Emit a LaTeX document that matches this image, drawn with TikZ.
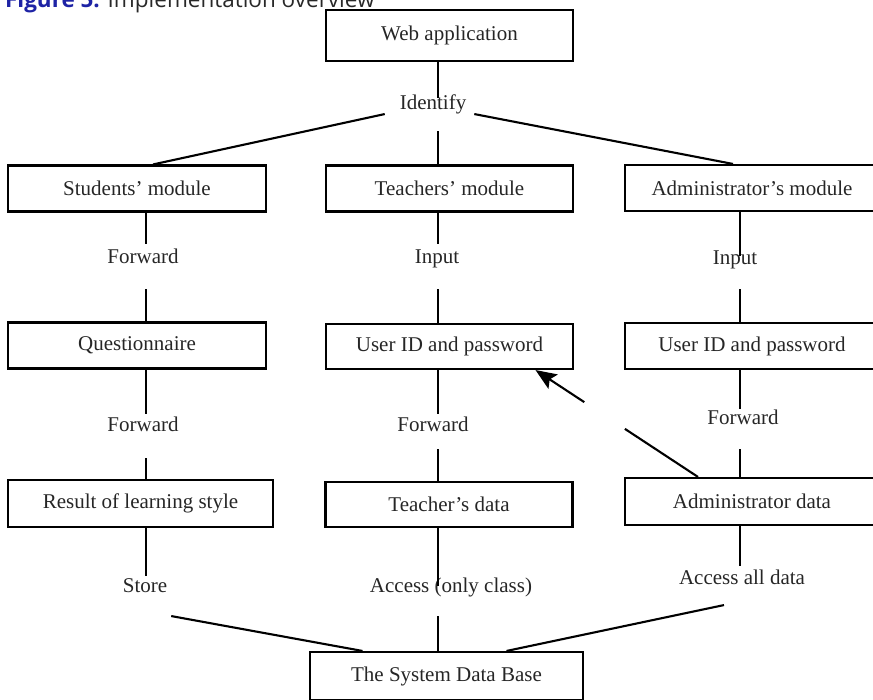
\documentclass[tikz,border=0pt]{standalone}
\usepackage{fontspec}
\setmainfont{Liberation Serif}
\newfontfamily\capfont{Open Sans}
\usetikzlibrary{arrows.meta,calc}
\definecolor{capblue}{RGB}{30,35,165}
\definecolor{capgray}{RGB}{40,40,40}

\begin{document}
\begin{tikzpicture}[x=1pt,y=-1pt,line width=2.1pt,
  box/.style={draw,minimum height=46pt,inner sep=0pt,text=black!85,font=\fontsize{21}{25}\selectfont},
  lab/.style={anchor=base,inner sep=0pt,text height=14pt,text depth=4pt,text=black!85,font=\fontsize{21}{25}\selectfont}]
  \useasboundingbox (0,0) rectangle (873,699);
  \node[anchor=base west,inner sep=0pt,text=capgray,font=\capfont\fontsize{22.5}{26}\selectfont] (21) at (4,7) {\textcolor{capblue}{\bfseries Figure 5.} Implementation overview};
  \coordinate (L) at (146,0);
  \coordinate (M) at (438,0);
  \coordinate (R) at (740,0);
  \node[box,minimum width=247pt,minimum height=51pt] (0) at (449.5,35.5) {Web application};
  \node[box,minimum width=258pt] (1) at (137,188.5) {Students’ module};
  \node[box,minimum width=247pt] (2) at (449.5,188.5) {Teachers’ module};
  \node[box,minimum width=254pt] (3) at (752,188) {Administrator’s module};
  \node[box,minimum width=258pt] (4) at (137,345.5) {Questionnaire};
  \node[box,minimum width=247pt,minimum height=45pt] (5) at (449.5,346.5) {User ID and password};
  \node[box,minimum width=254pt] (6) at (752,346) {User ID and password};
  \node[box,minimum width=265pt,minimum height=47pt] (7) at (140.5,503.5) {Result of learning style};
  \node[box,minimum width=247pt,minimum height=45pt] (8) at (449,504.5) {Teacher’s data};
  \node[box,minimum width=254pt,minimum height=47pt] (9) at (752,501.5) {Administrator data};
  \node[box,minimum width=273pt,minimum height=48pt] (10) at (446.5,676) {The System Data Base};
  \node[lab] (11) at (433,109) {Identify};
  \node[lab] (12) at (143,263) {Forward};
  \node[lab] (13) at (437,263) {Input};
  \node[lab] (14) at (735,264) {Input};
  \node[lab] (15) at (143,431) {Forward};
  \node[lab] (16) at (433,431) {Forward};
  \node[lab] (17) at (743,424) {Forward};
  \node[lab] (18) at (145,592) {Store};
  \node[lab] (19) at (451,592) {Access (only class)};
  \node[lab] (20) at (742,584) {Access all data};
  \draw[shorten >=-4pt] (0.south -| M) -- (11.north -| M);
  \draw[shorten <=17pt] (11.south -| M) -- (2.north -| M);
  \draw ([xshift=-14pt]11.south west) -- ([xshift=16pt]1.north);
  \draw ([xshift=7pt]11.south east) -- ([xshift=-19pt]3.north);
  \draw[shorten >=4pt] (1.south -| L) -- (12.north -| L);
  \draw[shorten <=21pt] (12.south -| L) -- (4.north -| L);
  \draw[shorten >=4pt] (2.south -| M) -- (13.north -| M);
  \draw[shorten <=21pt] (13.south -| M) -- (5.north -| M);
  \draw[shorten >=-7pt] (3.south -| R) -- (14.north -| R);
  \draw[shorten <=20pt] (14.south -| R) -- (6.north -| R);
  \draw[shorten >=2pt] (4.south -| L) -- (15.north -| L);
  \draw[shorten <=22pt] (15.south -| L) -- (7.north -| L);
  \draw[shorten >=2pt] (5.south -| M) -- (16.north -| M);
  \draw[shorten <=13pt] (16.south -| M) -- (8.north -| M);
  \draw (6.south -| R) -- (17.north -| R);
  \draw[shorten <=20pt] (17.south -| R) -- (9.north -| R);
  \draw[shorten >=1pt] (7.south -| L) -- (18.north -| L);
  \draw[shorten >=-9pt] (8.south -| M) -- (19.north -| M);
  \draw[shorten >=3pt] (9.south -| R) -- (20.north -| R);
  \draw ([shift={(3,19)}]18.south east) -- ([xshift=-84pt]10.north);
  \draw[shorten <=19pt] (19.south -| M) -- (10.north -| M);
  \draw ([shift={(-18,16)}]20.south) -- ([xshift=60pt]10.north);
  \coordinate (a) at ([xshift=-54pt]9.north);
  \coordinate (b) at ([xshift=86pt]5.south);
  \draw (a) -- ($(a)!.45!(b)$);
  \draw[-{Stealth[length=21pt,width=17pt,inset=4pt]}] ($(a)!.7!(b)$) -- (b);
\end{tikzpicture}
\end{document}
